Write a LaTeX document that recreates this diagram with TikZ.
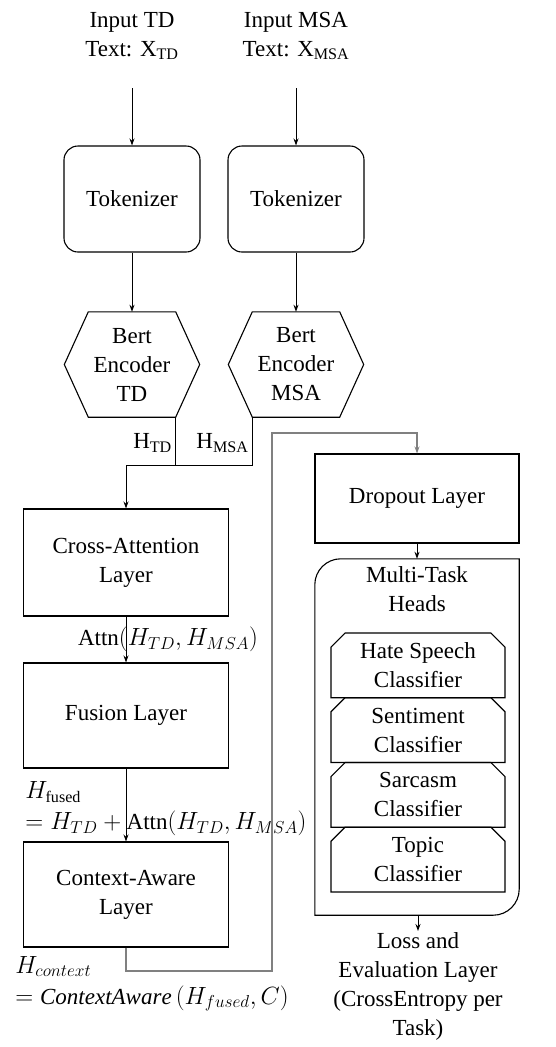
\documentclass[tikz,border=0pt]{standalone}
\usepackage{fontspec}
\setmainfont{Liberation Serif}
\usetikzlibrary{arrows.meta,shapes.misc,calc}

\tikzset{
  box/.style={draw, line width=1.1pt, minimum width=205pt, align=center},
  tokbox/.style={draw, line width=1.1pt, rounded corners=14pt, minimum width=136pt, minimum height=106pt},
  hexbox/.style={minimum width=135pt, minimum height=105pt, align=center, inner sep=0pt},
  clsbox/.style={draw, line width=1.1pt, chamfered rectangle, chamfered rectangle corners={north west,north east},
    chamfered rectangle xsep=7pt, chamfered rectangle ysep=7pt, minimum width=174pt, minimum height=64.75pt,
    inner sep=0pt, align=center},
  flow/.style={-{Stealth[length=7pt,width=5pt]}, line width=1pt},
  back/.style={-{Stealth[length=7pt,width=5pt]}, draw=gray, line width=1.8pt},
}

\begin{document}
\begin{tikzpicture}[x=1pt, y=-1pt, font=\fontsize{23}{29}\selectfont]
	\useasboundingbox (0,0) rectangle (556,1047);
	% inputs
	\node[align=center] (inTD) at (132,36) {Input TD\\Text: X\textsubscript{TD}};
	\node[align=center] (inMSA) at (296,36) {Input MSA\\Text: X\textsubscript{MSA}};
	\coordinate (sTD) at (132,88);
	\coordinate (sMSA) at (296,88);
	\node[tokbox] (tokTD) at (132,199) {Tokenizer};
	\node[tokbox] (tokMSA) at (296,199) {Tokenizer};
	\node[hexbox] (bTD) at (132,364.5) {Bert\\Encoder\\TD};
	\node[hexbox] (bMSA) at (296,364.5) {Bert\\Encoder\\MSA};
	\foreach \n in {bTD,bMSA} {
		\draw[line width=1.1pt] ($(\n.north west)+(24,0)$) -- ($(\n.north east)+(-24,0)$) -- (\n.east)
			-- ($(\n.south east)+(-24,0)$) coordinate (\n-se) -- ($(\n.south west)+(24,0)$) coordinate (\n-sw)
			-- (\n.west) -- cycle;
	}
	\draw[flow] (sTD) -- (tokTD);
	\draw[flow] (sMSA) -- (tokMSA);
	\draw[flow] (tokTD) -- (bTD);
	\draw[flow] (tokMSA) -- (bMSA);
	% left column
	\coordinate (jn) at (126,465);
	\node[box, minimum height=107pt] (cross) at (126,562.5) {Cross-Attention\\Layer};
	\node[box, minimum height=105pt] (fusion) at (126,715.5) {Fusion Layer};
	\node[box, minimum height=105pt] (ctx) at (126,894.5) {Context-Aware\\Layer};
	\draw[line width=1pt] (bTD-se) |- node[pos=.27,left] {H\textsubscript{TD}} (jn);
	\draw[line width=1pt] (bMSA-sw) |- node[pos=.27,left] {H\textsubscript{MSA}} (jn);
	\draw[flow] (jn) -- (cross);
	\draw[flow] (cross) -- node[midway, xshift=42pt] {Attn$(H_{TD},H_{MSA})$} (fusion);
	\draw[flow] (fusion) -- node[pos=.55, xshift=40pt, align=left]
		{$H_{\mathrm{fused}}$\\[2pt] $=H_{TD}+{}$Attn$(H_{TD},H_{MSA})$} (ctx);
	% right column
	\node[box, minimum width=204pt, minimum height=89pt] (drop) at (417,498.5) {Dropout Layer};
	\node[minimum width=204pt, minimum height=356pt] (heads) at (417,737) {};
	\draw[line width=1.1pt] (heads.north) [rounded corners=26pt] -| (heads.west) [sharp corners] |- (heads.south)
		[rounded corners=26pt] -| (heads.east) [sharp corners] |- (heads.north);
	\node[align=center] (htitle) at (417,589) {Multi-Task\\Heads};
	\node[clsbox] (hate) at (418,665.4) {Hate Speech\\Classifier};
	\node[clsbox] (senti) at (418,730.1) {Sentiment\\Classifier};
	\node[clsbox] (sarc) at (418,794.9) {Sarcasm\\Classifier};
	\node[clsbox] (topic) at (418,859.6) {Topic\\Classifier};
	\node[align=center, anchor=north, inner sep=1pt] (loss) at (418,931)
		{Loss and\\Evaluation Layer\\(CrossEntropy per\\Task)};
	\draw[flow] (drop) -- (heads);
	\draw[flow] (heads.south -| loss.north) -- (loss.north);
	% context back to dropout
	\coordinate (c1) at (272,971);
	\coordinate (c2) at (272,433);
	\draw[back] (ctx.south) |- node[at start, xshift=26pt, yshift=-36pt, align=left]
		{$H_{context}$\\[2pt] $=\mathit{ContextAware}\left(H_{fused},C\right)$} (c1) -- (c2) -| (drop.north);
\end{tikzpicture}
\end{document}
